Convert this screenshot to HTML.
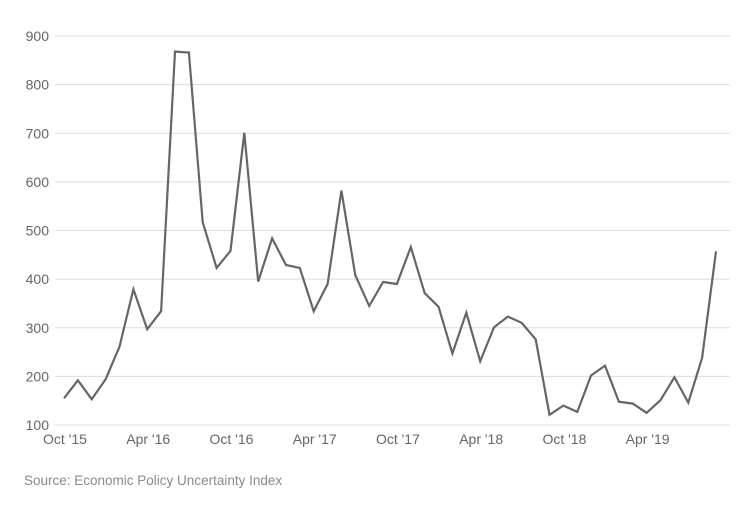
<!DOCTYPE html>
<html><head><meta charset="utf-8"><style>
body{margin:0;background:#fff;font-family:"Liberation Sans",sans-serif;}
svg text{font-family:"Liberation Sans",sans-serif;}
</style></head><body>
<svg id="chart" width="754" height="518" xmlns="http://www.w3.org/2000/svg">
<g id="grid"></g>
<g id="yticks"></g>
<g id="xticks"></g>
<path id="line" fill="none" stroke="#666" stroke-width="2.2" stroke-linejoin="miter"></path>
<text x="24" y="485" font-size="13.5" fill="#8a8a8a">Source: Economic Policy Uncertainty Index</text>
</svg>
<script>
const values = [155,192,153,194,261,379,297,334,868,866,517,423,458,701,395,484,429,423,334,390,582,408,345,394,390,466,371,343,247,331,231,301,323,310,276,121,140,127,202,222,148,144,125,151,198,146,238,457];
const yTicks = [100,200,300,400,500,600,700,800,900];
const xLabels = ["Oct '15","Apr '16","Oct '16","Apr '17","Oct '17","Apr '18","Oct '18","Apr '19"];
const xLabelIdx = [0,6,12,18,24,30,36,42];

const ns="http://www.w3.org/2000/svg";
const x0=64, dx=(716-64)/47;
const xS=i=>x0+i*dx;
const yS=v=>425-(v-100)*(389/800);
const grid=document.getElementById('grid'), yt=document.getElementById('yticks'), xt=document.getElementById('xticks');
yTicks.forEach(t=>{
  const l=document.createElementNS(ns,'line');
  l.setAttribute('x1',55);l.setAttribute('x2',730);
  l.setAttribute('y1',yS(t));l.setAttribute('y2',yS(t));
  l.setAttribute('stroke','#dcdcdc');l.setAttribute('stroke-width',1);
  
  
  grid.appendChild(l);
  const tx=document.createElementNS(ns,'text');
  tx.setAttribute('x',49);tx.setAttribute('y',yS(t)+5);
  tx.setAttribute('text-anchor','end');tx.setAttribute('font-size','14');tx.setAttribute('fill','#666');
  tx.textContent=t;
  
  
  yt.appendChild(tx);
});
xLabels.forEach((lab,k)=>{
  const tx=document.createElementNS(ns,'text');
  tx.setAttribute('x',xS(xLabelIdx[k])+1);tx.setAttribute('y',444);
  tx.setAttribute('text-anchor','middle');tx.setAttribute('font-size','14');tx.setAttribute('fill','#666');
  tx.textContent=lab;
  
  
  xt.appendChild(tx);
});
document.getElementById('line').setAttribute('d',values.map((v,i)=>(i?'L':'M')+xS(i).toFixed(1)+','+yS(v).toFixed(1)).join(''));
</script>
</body></html>
